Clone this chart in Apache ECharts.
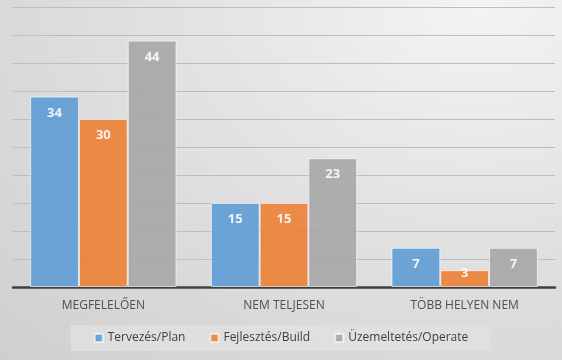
<!DOCTYPE html>
<html><head><meta charset="utf-8">
<script src="https://cdn.jsdelivr.net/npm/echarts@6/dist/echarts.min.js"></script>
<style>
html,body{margin:0;padding:0;}
#c{width:562px;height:360px;background:radial-gradient(ellipse at 85% 0%, #f4f4f4 0%, #e2e2e2 45%, #cfcfcf 100%);}
</style></head>
<body><div id="c"></div>
<script>
const categories = ['MEGFELELŐEN', 'NEM TELJESEN', 'TÖBB HELYEN NEM'];
const seriesNames = ['Tervezés/Plan', 'Fejlesztés/Build', 'Üzemeltetés/Operate'];
const planValues = [34, 15, 7];
const buildValues = [30, 15, 3];
const operateValues = [44, 23, 7];
const colors = ['#5b9bd5', '#ed7d31', '#a5a5a5'];
const font = 'Open Sans';
const chart = echarts.init(document.getElementById('c'));
const mk = (name, data, color) => ({
  name, type: 'bar', barGap: '0%', barCategoryGap: '19%',
  data: data.map(v => v < 5 ? { value: v, label: { distance: -3 } } : v),
  itemStyle: { color, opacity: 0.88, borderColor: 'rgba(255,255,255,0.7)', borderWidth: 1 },
  label: { show: true, position: 'insideTop', distance: 10, color: '#fff', fontWeight: 'bold', fontSize: 13, fontFamily: font },
  emphasis: { disabled: true }
});
chart.setOption({
  backgroundColor: 'transparent',
  animation: false,
  grid: { left: 13, right: 7, top: 7, bottom: 73, containLabel: false },
  legend: {
    bottom: 9, left: 'center', itemWidth: 8, itemHeight: 8, itemGap: 24, icon: 'rect',
    backgroundColor: 'rgba(225,225,225,0.75)', padding: [7, 23, 7, 23],
    textStyle: { color: '#404040', fontSize: 12, fontFamily: font },
    data: seriesNames
  },
  xAxis: {
    type: 'category', data: categories,
    axisLine: { lineStyle: { color: '#404040', width: 2.5 } },
    axisTick: { show: false },
    axisLabel: { color: '#505050', fontSize: 12, fontFamily: font, margin: 13 }
  },
  yAxis: {
    type: 'value', min: 0, max: 50, interval: 5,
    axisLabel: { show: false }, axisLine: { show: false }, axisTick: { show: false },
    splitLine: { lineStyle: { color: '#bdbdbd', width: 1.2 } }
  },
  series: [
    mk(seriesNames[0], planValues, colors[0]),
    mk(seriesNames[1], buildValues, colors[1]),
    mk(seriesNames[2], operateValues, colors[2])
  ]
});
</script></body></html>
